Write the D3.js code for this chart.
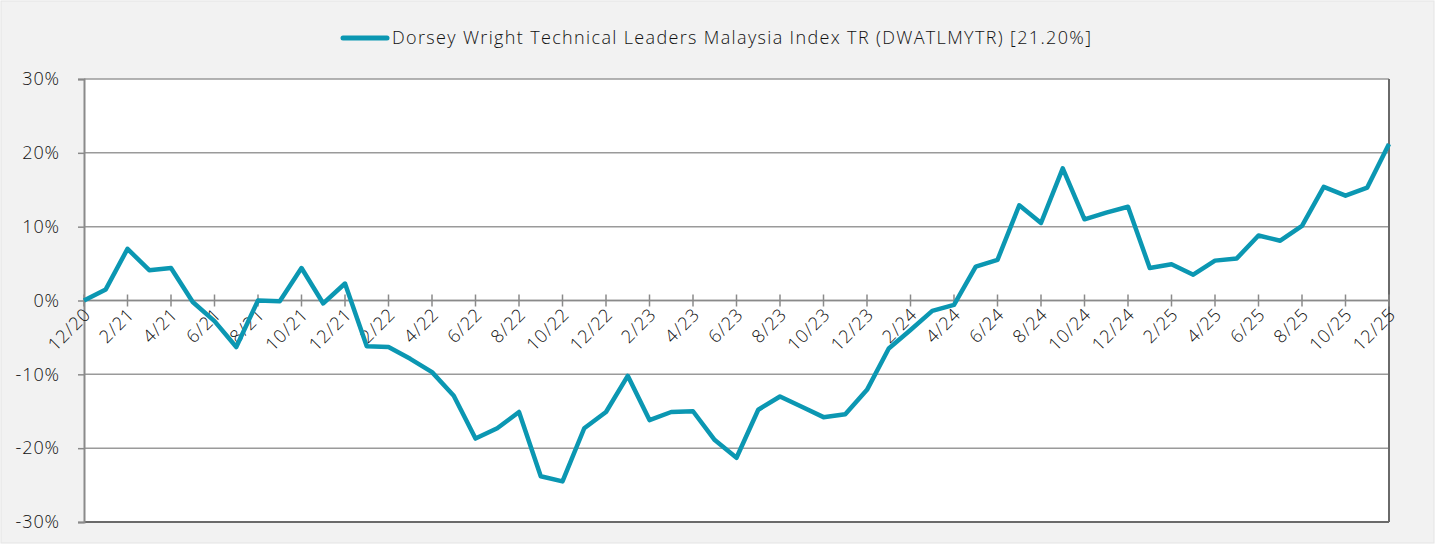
<!DOCTYPE html>
<html>
<head>
<meta charset="utf-8">
<script src="https://cdn.jsdelivr.net/npm/d3@7"></script>
<style>
  body { margin: 0; background: #fff; }
  #container { width: 1435px; height: 544px; }
  text { font-family: "Open Sans", sans-serif; font-weight: 300; fill: #111; letter-spacing: 0.9px; }
</style>
</head>
<body>
<div id="container"></div>
<script>
const width = 1435,
      height = 544,
      margin = {top: 79, bottom: 22, left: 84, right: 46};

// monthly months, 12/20 .. 12/25
const months = [];
for (let y = 20; y <= 25; y++) {
    for (let m = 1; m <= 12; m++) {
        if (y === 20 && m < 12) continue;
        months.push(m + "/" + y);
    }
}

const seriesName = "Dorsey Wright Technical Leaders Malaysia Index TR (DWATLMYTR) [21.20%]";

const values = [
    0.0, 1.5, 7.0, 4.1, 4.4, -0.2, -2.8, -6.3, 0.0, -0.1,
    4.4, -0.4, 2.3, -6.2, -6.3, -7.9, -9.7, -12.9, -18.7, -17.3,
    -15.1, -23.8, -24.5, -17.3, -15.1, -10.2, -16.2, -15.1, -15.0, -18.9,
    -21.3, -14.8, -13.0, -14.4, -15.8, -15.4, -12.1, -6.5, -4.0, -1.4,
    -0.6, 4.6, 5.5, 12.9, 10.5, 17.9, 11.0, 11.9, 12.7, 4.4,
    4.9, 3.5, 5.4, 5.7, 8.8, 8.1, 10.1, 15.4, 14.2, 15.3,
    21.2
];

const yTicks = [-30, -20, -10, 0, 10, 20, 30];
const lineColor = "#0b97b2";

const svg = d3.select("#container").append("svg")
    .attr("width", width)
    .attr("height", height);

// chart background
svg.append("rect")
    .attr("x", 1).attr("y", 1)
    .attr("width", width - 2).attr("height", height - 2)
    .attr("fill", "#f2f2f2")
    .attr("stroke", "#e4e4e4");

const x = d3.scaleLinear()
    .domain([0, months.length - 1])
    .range([margin.left, width - margin.right]);

const y = d3.scaleLinear()
    .domain([-30, 30])
    .range([height - margin.bottom, margin.top]);

// plot area
svg.append("rect")
    .attr("x", x(0)).attr("y", y(30))
    .attr("width", x(months.length - 1) - x(0))
    .attr("height", y(-30) - y(30))
    .attr("fill", "#fff");

// gridlines
svg.append("g")
    .selectAll("line")
    .data(yTicks)
    .join("line")
    .attr("x1", x(0))
    .attr("x2", x(months.length - 1))
    .attr("y1", d => y(d))
    .attr("y2", d => y(d))
    .attr("stroke", d => d === -30 ? "#6a6a6a" : "#9a9a9a")
    .attr("stroke-width", d => d === -30 ? 2 : 1.5);

// right border
svg.append("line")
    .attr("x1", x(months.length - 1)).attr("x2", x(months.length - 1))
    .attr("y1", y(30)).attr("y2", y(-30))
    .attr("stroke", "#6a6a6a").attr("stroke-width", 2);

// y axis
const yAxis = svg.append("g")
    .attr("transform", `translate(${margin.left}, 0)`)
    .call(d3.axisLeft(y).tickValues(yTicks).tickSize(6).tickPadding(18)
        .tickFormat(d => d + "%"));
yAxis.select(".domain").attr("stroke", "#8a8a8a").attr("stroke-width", 2);
yAxis.selectAll(".tick line").attr("stroke", "#8a8a8a").attr("stroke-width", 1.5);
yAxis.selectAll(".tick text")
    .style("font-family", "'Open Sans', sans-serif")
    .style("font-size", "18px")
    .attr("fill", "#111");

// x axis on the zero line
const xAxis = svg.append("g")
    .attr("transform", `translate(0, ${y(0)})`);
xAxis.append("line")
    .attr("x1", x(0)).attr("x2", x(months.length - 1))
    .attr("stroke", "#8a8a8a").attr("stroke-width", 1.5);
const tickIdx = d3.range(0, months.length, 2);
xAxis.selectAll(".xt")
    .data(tickIdx)
    .join("line")
    .attr("class", "xt")
    .attr("x1", d => x(d)).attr("x2", d => x(d))
    .attr("y1", -6).attr("y2", 6)
    .attr("stroke", "#8a8a8a").attr("stroke-width", 1.5);
xAxis.selectAll(".xl")
    .data(tickIdx)
    .join("text")
    .attr("class", "xl")
    .attr("transform", d => `translate(${x(d) + 8}, ${15}) rotate(-45)`)
    .attr("text-anchor", "end")
    .style("font-size", "18px")
    .text(d => months[d]);

// series line
const line = d3.line()
    .x((d, i) => x(i))
    .y(d => y(d));

svg.append("path")
    .datum(values)
    .attr("d", line)
    .attr("fill", "none")
    .attr("stroke", lineColor)
    .attr("stroke-width", 4.5)
    .attr("stroke-linejoin", "round");

// legend
const legend = svg.append("g").attr("transform", "translate(343, 38)");
legend.append("line")
    .attr("x1", 0).attr("x2", 44)
    .attr("stroke", lineColor)
    .attr("stroke-width", 5)
    .attr("stroke-linecap", "round");
legend.append("text")
    .attr("x", 49).attr("dy", "0.35em")
    .style("font-size", "18px")
    .style("letter-spacing", "1.35px")
    .text(seriesName);
</script>
</body>
</html>
